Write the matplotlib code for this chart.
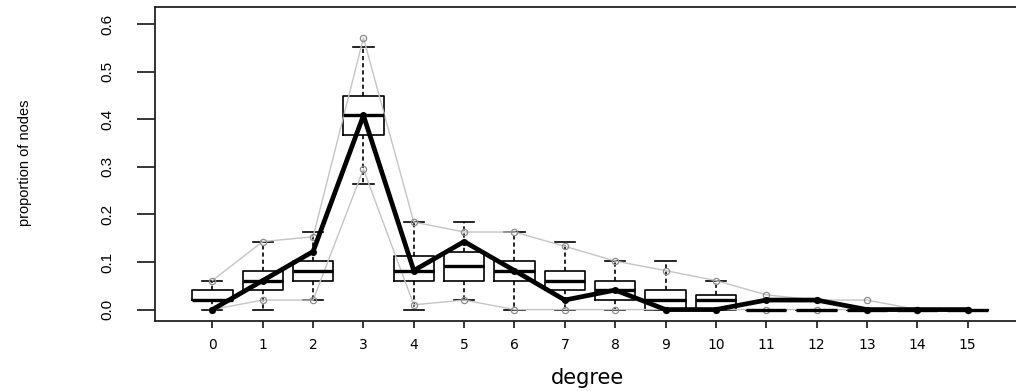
import numpy as np
from matplotlib import pyplot as plt
from matplotlib import font_manager

# Goodness-of-fit plot: degree distribution of simulated networks vs observed

degrees = list(range(16))
tick_labels = [str(d) for d in degrees]

# Boxplot statistics of simulated proportions
box_q1 = [0.020, 0.041, 0.061, 0.367, 0.061, 0.061, 0.061, 0.041, 0.020, 0.0, 0.0, 0.0, 0.0, 0.0, 0.0, 0.0]
box_med = [0.020, 0.061, 0.082, 0.408, 0.082, 0.092, 0.082, 0.061, 0.041, 0.020, 0.020, 0.0, 0.0, 0.0, 0.0, 0.0]
box_q3 = [0.041, 0.082, 0.102, 0.449, 0.112, 0.122, 0.102, 0.082, 0.061, 0.041, 0.031, 0.0, 0.0, 0.0, 0.0, 0.0]
whisk_lo = [0.0, 0.0, 0.020, 0.265, 0.0, 0.020, 0.0, 0.0, 0.0, 0.0, 0.0, 0.0, 0.0, 0.0, 0.0, 0.0]
whisk_hi = [0.061, 0.143, 0.163, 0.551, 0.184, 0.184, 0.163, 0.143, 0.102, 0.102, 0.061, 0.0, 0.0, 0.0, 0.0, 0.0]

# Gray bounds (lower / upper)
bound_lo = [0.0, 0.020, 0.020, 0.295, 0.010, 0.020, 0.0, 0.0, 0.0, 0.0, 0.0, 0.0, 0.0, 0.0, 0.0, 0.0]
bound_hi = [0.061, 0.143, 0.153, 0.571, 0.184, 0.163, 0.163, 0.133, 0.102, 0.082, 0.061, 0.031, 0.020, 0.020, 0.0, 0.0]

# Observed network
observed = [0.0, 0.061, 0.122, 0.408, 0.082, 0.143, 0.082, 0.020, 0.041, 0.0, 0.0, 0.020, 0.020, 0.0, 0.0, 0.0]

installed = {f.name for f in font_manager.fontManager.ttflist}
narrow = 'Liberation Sans Narrow' if 'Liberation Sans Narrow' in installed else 'Liberation Sans'

W, H = 1016, 391
fig = plt.figure(figsize=(W / 100, H / 100), dpi=100)

# axes box in pixels: left 155, right ~1025 (cut off), top 7, bottom 321
ax = fig.add_axes([155 / W, 1 - 321 / H, (1025 - 155) / W, (321 - 7) / H])

stats = []
for i in range(len(degrees)):
    stats.append(dict(med=box_med[i], q1=box_q1[i], q3=box_q3[i],
                      whislo=whisk_lo[i], whishi=whisk_hi[i], fliers=[]))

ax.bxp(stats, positions=degrees, widths=0.8, capwidths=0.4, showfliers=False,
       manage_ticks=False,
       boxprops=dict(color='black', linewidth=1.2),
       medianprops=dict(color='black', linewidth=2.4),
       whiskerprops=dict(color='black', linewidth=1.2, linestyle=(0, (2.5, 1.8))),
       capprops=dict(color='black', linewidth=1.2))

for bound in (bound_lo, bound_hi):
    ax.plot(degrees, bound, color='#c4c4c4', linewidth=1.0, marker='o',
            markersize=4.5, markerfacecolor='none', markeredgecolor='#8c8c8c',
            markeredgewidth=0.9)

ax.plot(degrees, observed, color='black', linewidth=3.4, marker='o',
        markersize=4, solid_joinstyle='round')

ax.set_xlim(-1.14, 16.14)
ax.set_ylim(-0.024, 0.636)

ax.set_xticks(degrees)
ax.set_xticklabels(tick_labels, fontfamily='DejaVu Sans', fontsize=10)
ax.set_yticks([0.0, 0.1, 0.2, 0.3, 0.4, 0.5, 0.6])
ax.set_yticklabels(['0.0', '0.1', '0.2', '0.3', '0.4', '0.5', '0.6'],
                   fontfamily=narrow, fontsize=11, rotation=90, va='center')

ax.tick_params(axis='x', length=5, width=1.1, pad=7, colors='black')
ax.tick_params(axis='y', length=13, width=1.1, pad=16, colors='black')

for side in ('left', 'bottom', 'top'):
    ax.spines[side].set_linewidth(1.3)
    ax.spines[side].set_color('#222222')
ax.spines['right'].set_visible(False)

ax.set_xlabel('degree', fontfamily='DejaVu Sans', fontsize=15)
ax.xaxis.set_label_coords(588 / W, 1 - 378 / H, transform=fig.transFigure)
ax.set_ylabel('proportion of nodes', fontfamily=narrow, fontsize=10.5)
ax.yaxis.set_label_coords(25 / W, 1 - 163 / H, transform=fig.transFigure)
ax.xaxis.label.set_verticalalignment('center')
ax.yaxis.label.set_verticalalignment('center')

fig.savefig('out.png', dpi=100)
